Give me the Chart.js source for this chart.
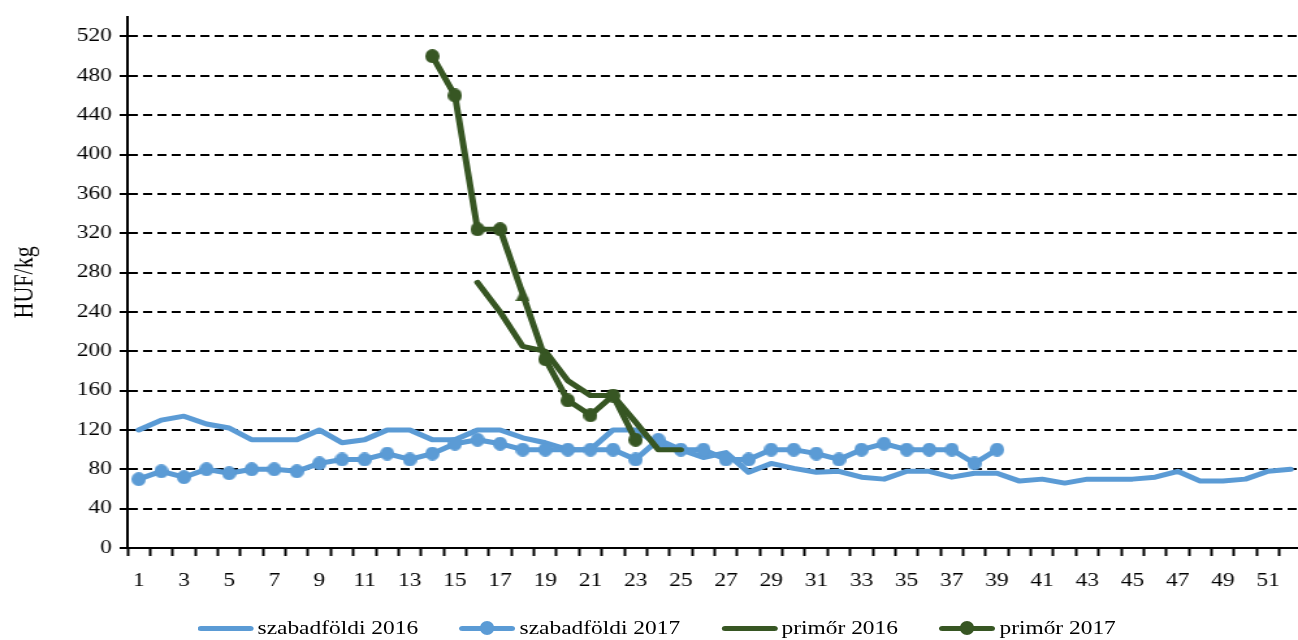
<!DOCTYPE html>
<html>
<head>
<meta charset="utf-8">
<script src="https://cdn.jsdelivr.net/npm/chart.js@4/dist/chart.umd.min.js"></script>
<style>
  html, body { margin: 0; padding: 0; background: #fff; overflow: hidden; width: 1298px; height: 640px; }
  #wrap { position: absolute; left: 0; top: 0; width: 1012px; height: 640px; transform: scaleX(1.3006); transform-origin: 0 0; }
  #legend { position: absolute; left: 152px; top: 617px; height: 22px; display: flex; align-items: center;
            font: 18px "Liberation Serif", "Times New Roman", serif; color: #000; white-space: nowrap; }
  .item { display: flex; align-items: center; margin-right: 32px; }
  .sym { position: relative; width: 43px; height: 5px; border-radius: 3px; margin-right: 3px; }
  .dot { position: absolute; left: 16px; top: -4.5px; width: 11px; height: 14px; border-radius: 50%; }
</style>
</head>
<body>
<div id="wrap">
  <canvas id="chart" width="1012" height="640"></canvas>
  <div id="legend"></div>
</div>
<script>
// heti adatok (HUF/kg)
const weeks = ['1','2','3','4','5','6','7','8','9','10','11','12','13','14','15','16','17','18','19','20',
  '21','22','23','24','25','26','27','28','29','30','31','32','33','34','35','36','37','38','39','40',
  '41','42','43','44','45','46','47','48','49','50','51','52']

const yTicks = [0, 40, 80, 120, 160, 200, 240, 280, 320, 360, 400, 440, 480, 520]

const szabad2016 = [120,130,134,126,122,110,110,110,120,107,110,120,120,110,110,120,120,112,107,100,
  100,120,120,105,100,92,97,77,86,81,77,78,72,70,78,78,72,76,76,68,
  70,66,70,70,70,72,78,68,68,70,78,80]

const szabad2017 = [70,78,72,80,76,80,80,78,86,90,90,96,90,96,106,110,106,100,100,100,
  100,100,90,110,100,100,90,90,100,100,96,90,100,106,100,100,100,86,100,null,
  null,null,null,null,null,null,null,null,null,null,null,null]

const primor2016 = [null,null,null,null,null,null,null,null,null,null,null,null,null,null,null,270,240,205,200,170,
  155,155,128,100,100,null,null,null,null,null,null,null,null,null,null,null,null,null,null,null,
  null,null,null,null,null,null,null,null,null,null,null,null]

const primor2017 = [null,null,null,null,null,null,null,null,null,null,null,null,null,500,460,324,324,258,192,150,
  135,155,110,null,null,null,null,null,null,null,null,null,null,null,null,null,null,null,null,null,
  null,null,null,null,null,null,null,null,null,null,null,null]

const seriesNames = ['szabadföldi 2016', 'szabadföldi 2017', 'primőr 2016', 'primőr 2017']

const KEK = '#5B9BD5'
const ZOLD = '#375623'
const SX = 1.3006
const FONT = '"Liberation Serif", "Times New Roman", serif'

// pontjelek: a vizszintes nyujtas miatt elore osszenyomva
const makeDot = (color, d) => {
  const c = document.createElement('canvas')
  c.width = Math.round(d / SX)
  c.height = d
  const g = c.getContext('2d')
  g.fillStyle = color
  g.beginPath()
  g.ellipse(c.width / 2, d / 2, c.width / 2, d / 2, 0, 0, Math.PI * 2)
  g.fill()
  return c
}
const makeTri = (color, d) => {
  const c = document.createElement('canvas')
  c.width = Math.round(d / SX)
  c.height = d
  const g = c.getContext('2d')
  g.fillStyle = color
  g.beginPath()
  g.moveTo(c.width / 2, 0)
  g.lineTo(c.width, d)
  g.lineTo(0, d)
  g.closePath()
  g.fill()
  return c
}

const kekPont = makeDot(KEK, 14)
const zoldPont = makeDot(ZOLD, 14)
const zoldHarom = makeTri(ZOLD, 14)

const lineBase = { borderWidth: 5, tension: 0, spanGaps: false, borderCapStyle: 'round', borderJoinStyle: 'round', fill: false }

new Chart(document.querySelector('#chart'), {
  type: 'line',
  data: {
    labels: weeks,
    datasets: [
      { ...lineBase, label: seriesNames[0], data: szabad2016, borderColor: KEK, pointRadius: 0, order: 4 },
      { ...lineBase, label: seriesNames[1], data: szabad2017, borderColor: KEK, pointRadius: 6, pointStyle: kekPont, order: 3 },
      { ...lineBase, label: seriesNames[2], data: primor2016, borderColor: ZOLD, pointRadius: 0, order: 2 },
      { ...lineBase, label: seriesNames[3], data: primor2017, borderColor: ZOLD, pointRadius: 6, order: 1,
        pointStyle: ctx => ctx.dataIndex === 17 ? zoldHarom : zoldPont }
    ]
  },
  options: {
    responsive: false,
    animation: false,
    events: [],
    layout: { padding: { top: 10, left: 0, right: 0, bottom: 0 } },
    plugins: { legend: { display: false }, tooltip: { enabled: false } },
    scales: {
      x: {
        offset: true,
        grid: { offset: true, drawOnChartArea: false, drawTicks: true, tickLength: 8, tickColor: '#000', tickWidth: 2 },
        border: { color: '#000', width: 2 },
        ticks: {
          autoSkip: false, maxRotation: 0, minRotation: 0, padding: 14, color: '#000',
          font: { family: FONT, size: 18 },
          callback: function (v, i) { return i % 2 === 0 ? this.getLabelForValue(v) : '' }
        },
        afterFit: s => { s.height = 92 }
      },
      y: {
        min: 0, max: 540,
        afterBuildTicks: s => { s.ticks = yTicks.map(v => ({ value: v })) },
        ticks: { padding: 6, color: '#000', font: { family: FONT, size: 18 } },
        grid: {
          color: c => c.tick.value === 0 ? 'rgba(0,0,0,0)' : '#000',
          lineWidth: 2,
          tickColor: '#000',
          tickLength: 6, tickWidth: 2
        },
        border: { color: '#000', width: 2, dash: [7, 4] },
        title: { display: true, text: 'HUF/kg', color: '#000', font: { family: FONT, size: 22 }, padding: { top: 6, bottom: 0 } },
        afterFit: s => { s.width = 98 }
      }
    }
  }
})

// jelmagyarazat
const legend = document.querySelector('#legend')
seriesNames.forEach((nev, i) => {
  const szin = i < 2 ? KEK : ZOLD
  const item = document.createElement('div')
  item.className = 'item'
  const sym = document.createElement('div')
  sym.className = 'sym'
  sym.style.background = szin
  if (i % 2 === 1) {
    const dot = document.createElement('div')
    dot.className = 'dot'
    dot.style.background = szin
    sym.appendChild(dot)
  }
  const txt = document.createElement('span')
  txt.textContent = nev
  item.appendChild(sym)
  item.appendChild(txt)
  legend.appendChild(item)
})
</script>
</body>
</html>
